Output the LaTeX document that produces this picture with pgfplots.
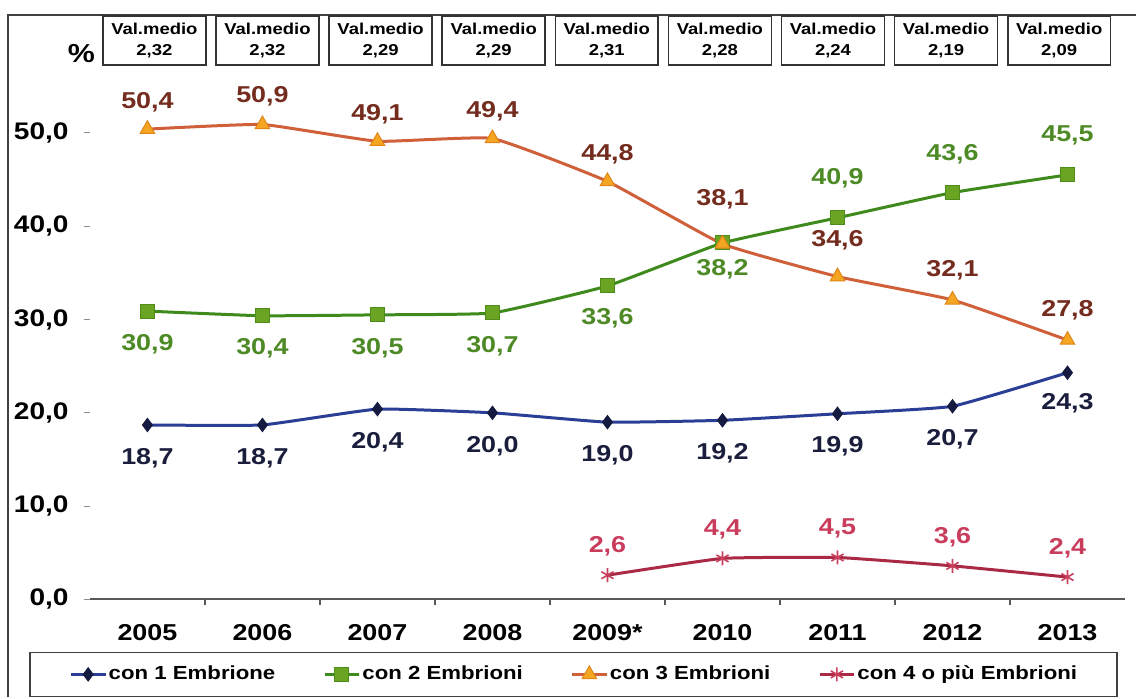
\documentclass[border=0pt]{standalone}
\usepackage{fontspec}
\setmainfont{Liberation Sans}[FakeStretch=1.17]
\usepackage{pgfplots}
\usepackage{pgfplotstable}
\pgfplotsset{compat=1.18}
\definecolor{blueline}{HTML}{2B3E96}
\definecolor{bluemark}{HTML}{141A40}
\definecolor{bluetext}{HTML}{1A1E3C}
\definecolor{greenline}{HTML}{3F8A1C}
\definecolor{greenfill}{HTML}{6BA322}
\definecolor{greendraw}{HTML}{4E8C1A}
\definecolor{greentext}{HTML}{4D8A26}
\definecolor{orangeline}{HTML}{D0603A}
\definecolor{orangefill}{HTML}{F4A623}
\definecolor{orangedraw}{HTML}{E0861A}
\definecolor{orangetext}{HTML}{732C1E}
\definecolor{redline}{HTML}{AA2A45}
\definecolor{redmark}{HTML}{C8405E}
\definecolor{redtext}{HTML}{C93C5B}

\pgfplotstableread{
x y dy
0 18.7 -16.5
1 18.7 -16.5
2 20.4 -16.5
3 20.0 -16.5
4 19.0 -16.5
5 19.2 -16.5
6 19.9 -16.5
7 20.7 -16.5
8 24.3 -15.5
}\tabone
\pgfplotstableread{
x y dy
0 30.9 -16.5
1 30.4 -16.5
2 30.5 -16.5
3 30.7 -16.5
4 33.6 -16
5 38.2 -13
6 40.9 20
7 43.6 19
8 45.5 20
}\tabtwo
\pgfplotstableread{
x y dy
0 50.4 13.5
1 50.9 14
2 49.1 13.5
3 49.4 13.5
4 44.8 13.5
5 38.1 22.5
6 34.6 18
7 32.1 15
8 27.8 15
}\tabthree
\pgfplotstableread{
x y dy
4 2.6 14.5
5 4.4 14.5
6 4.5 14.5
7 3.6 14.5
8 2.4 14.5
}\tabfour

\newcommand{\valbox}[2]{%
  \node[draw=black!80, line width=0.8pt, minimum width=51.5pt, minimum height=24.5pt, inner sep=0pt,
        align=center, font=\fontsize{7.9}{10.5}\selectfont\bfseries] at (#1pt,328.75pt) {Val.medio\\#2};}

\begin{document}
\begin{tikzpicture}
\path (0pt,0pt) rectangle (568.5pt,349pt);
\draw[line width=1pt, black!75] (4pt,0pt) -- (4pt,341.5pt) -- (568.5pt,341.5pt);
\draw[line width=0.8pt, black!75] (15pt,0.5pt) rectangle (559pt,22.5pt);
\node[font=\fontsize{13}{15}\selectfont\bfseries] at (40.75pt,322pt) {\%};
\valbox{77.25}{2,32}
\valbox{133.85}{2,32}
\valbox{190.45}{2,29}
\valbox{247.05}{2,29}
\valbox{303.65}{2,31}
\valbox{360.25}{2,28}
\valbox{416.85}{2,24}
\valbox{473.45}{2,19}
\valbox{530.05}{2,09}
\begin{axis}[
  at={(45pt,49pt)}, anchor=south west,
  scale only axis, width=518pt, height=256.85pt,
  xmin=-0.5, xmax=8.5, ymin=0, ymax=55,
  clip=false,
  axis x line=bottom, axis y line=left,
  axis line style={-},
  x axis line style={draw=black!65, line width=1pt},
  y axis line style={draw=none},
  tick align=outside,
  major tick length=3pt,
  xtick={0.5,1.5,...,7.5}, xticklabels={},
  xtick style={draw=black!65, line width=0.6pt},
  ytick={0,10,...,50},
  ytick style={draw=black!45, line width=0.6pt},
  yticklabel style={font=\fontsize{12}{14}\selectfont\bfseries, anchor=east, inner sep=0pt, xshift=-7.5pt,
     /pgf/number format/.cd, fixed, fixed zerofill, precision=1, use comma, assume math mode=true},
  extra x ticks={0,1,...,8},
  extra x tick labels={2005,2006,2007,2008,2009*,2010,2011,2012,2013},
  extra x tick style={major tick length=0pt, tick style={draw=none},
     xticklabel style={font=\fontsize{11.5}{13}\selectfont\bfseries, anchor=base, yshift=-20.4pt}},
  legend style={at={(0.468,-0.146)}, anchor=center, draw=none, fill=none,
     legend columns=4, font=\fontsize{9.5}{11}\selectfont\bfseries,
     /tikz/every even column/.append style={column sep=23pt},
     nodes={inner xsep=1pt}},
  legend cell align=left,
  every axis plot/.append style={smooth, tension=0.22},
  nodes near coords={\pgfmathprintnumber[fixed,fixed zerofill,precision=1,use comma,assume math mode=true]{\pgfplotspointmeta}},
  visualization depends on={\thisrow{dy} \as \dy},
]
\addplot[color=blueline, line width=1.5pt, mark=diamond*, mark size=3.3pt,
  mark options={fill=bluemark, draw=bluemark, line width=0.5pt},
  every node near coord/.append style={font=\fontsize{11.5}{13}\selectfont\bfseries, text=bluetext, anchor=center, yshift=\dy pt}]
  table[x=x,y=y] {\tabone};
\addlegendentry{con 1 Embrione}
\addplot[color=greenline, line width=1.5pt, mark=square*, mark size=3.5pt,
  mark options={fill=greenfill, draw=greendraw, line width=0.5pt},
  every node near coord/.append style={font=\fontsize{11.5}{13}\selectfont\bfseries, text=greentext, anchor=center, yshift=\dy pt}]
  table[x=x,y=y] {\tabtwo};
\addlegendentry{con 2 Embrioni}
\addplot[color=orangeline, line width=1.5pt, mark=triangle*, mark size=4.2pt,
  mark options={fill=orangefill, draw=orangedraw, line width=0.5pt},
  every node near coord/.append style={font=\fontsize{11.5}{13}\selectfont\bfseries, text=orangetext, anchor=center, yshift=\dy pt}]
  table[x=x,y=y] {\tabthree};
\addlegendentry{con 3 Embrioni}
\addplot[color=redline, line width=1.5pt, mark=asterisk, mark size=3.5pt,
  mark options={draw=redmark, line width=0.8pt},
  every node near coord/.append style={font=\fontsize{11.5}{13}\selectfont\bfseries, text=redtext, anchor=center, yshift=\dy pt}]
  table[x=x,y=y] {\tabfour};
\addlegendentry{con 4 o più Embrioni}
\end{axis}
\end{tikzpicture}
\end{document}
